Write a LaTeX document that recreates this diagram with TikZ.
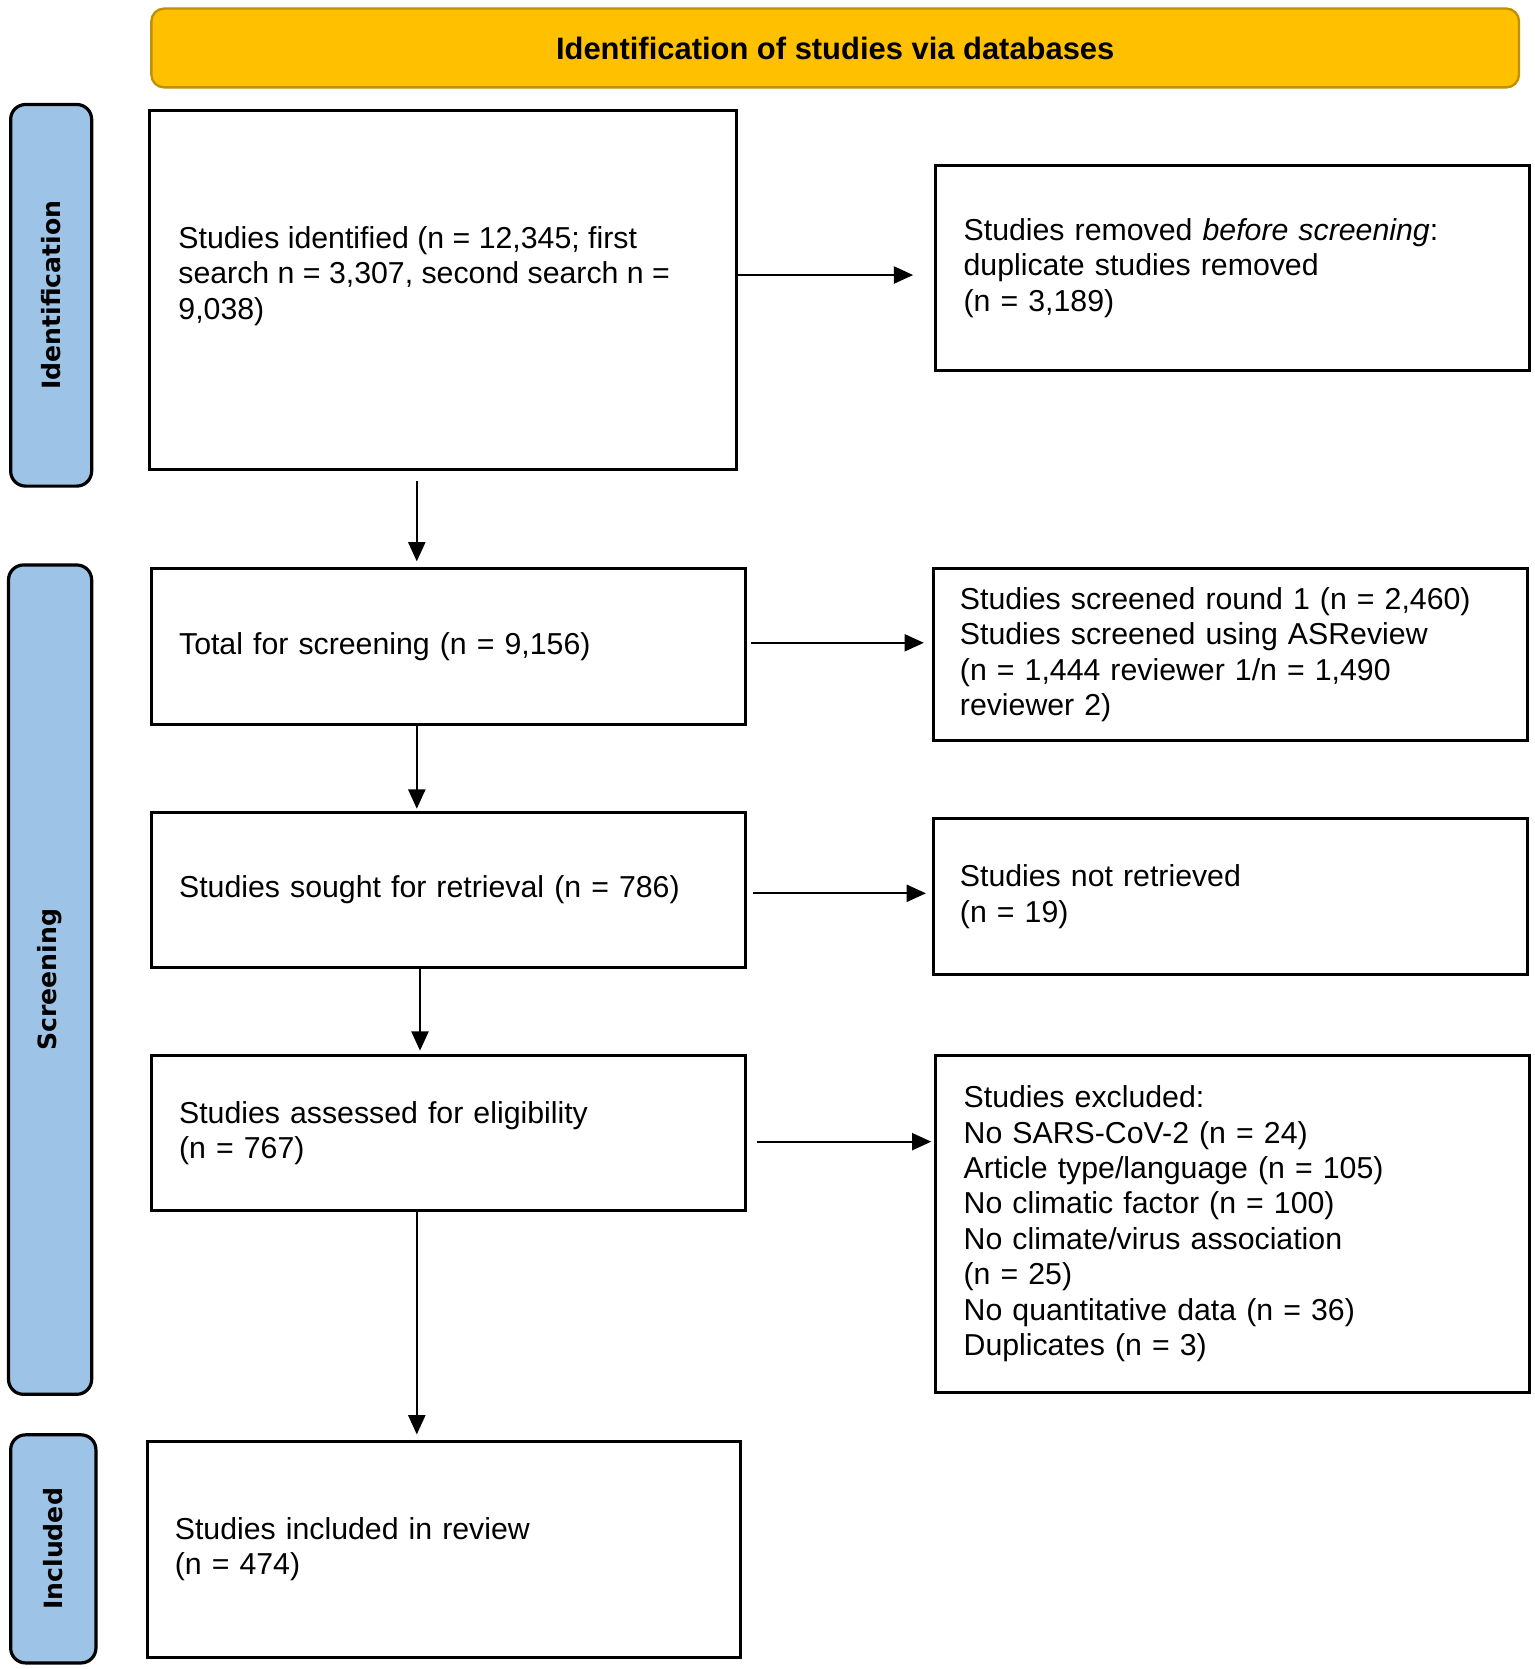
\documentclass[tikz,border=0pt]{standalone}
\usepackage{fontspec}
\setmainfont{Liberation Sans}
\newfontfamily\labfont{DejaVu Sans}
\usetikzlibrary{arrows.meta}
\definecolor{bannerfill}{HTML}{FFC000}
\definecolor{bannerdraw}{HTML}{BF9000}
\definecolor{sidefill}{HTML}{9DC3E6}
\tikzset{
  box/.style={draw=black, line width=1.4pt, fill=white, align=left, inner xsep=13pt,
    font=\fontsize{14.2}{16.6}\selectfont},
  sidelab/.style={draw=black, line width=1.5pt, fill=sidefill, rounded corners=7pt,
    font=\labfont\bfseries\fontsize{11.8}{13}\selectfont, inner sep=0pt},
  arr/.style={line width=0.9pt, -{Triangle[length=9pt,width=8pt]}},
}
\begin{document}
\begin{tikzpicture}[x=0.5pt,y=-0.5pt]
\useasboundingbox (0,0) rectangle (1440,1565.7);
% banner
\node[draw=bannerdraw, line width=1.1pt, fill=bannerfill, rounded corners=6pt,
  minimum width=641.5pt, minimum height=37pt,
  font=\bfseries\fontsize{14.5}{16}\selectfont] (banner) at (783.5,45)
  {Identification of studies via databases};
% side labels
\node[sidelab, minimum width=179pt, minimum height=38pt, rotate=90] (idlab) at (48,277) {Identification};
\node[sidelab, minimum width=389pt, minimum height=39pt, rotate=90] (scrlab) at (47,919) {Screening};
\node[sidelab, minimum width=107pt, minimum height=40pt, rotate=90] (inclab) at (50,1453) {Included};
% left column
\node[box, minimum width=275.5pt, minimum height=168pt] (box1) at (415.5,272) {};
\node[font=\fontsize{14.2}{16.6}\selectfont, align=left, anchor=west, inner sep=0pt] (box1txt) at (167,259)
  {Studies identified (n = 12,345; first\\search n = 3,307, second search n =\\9,038)};
\node[box, minimum width=278.5pt, minimum height=73.5pt, text width=252.5pt] (total) at (420.5,606.5)
  {Total for screening (n = 9,156)};
\node[box, minimum width=278.5pt, minimum height=73pt, text width=252.5pt] (sought) at (420.5,835)
  {Studies sought for retrieval (n = 786)};
\node[box, minimum width=278.5pt, minimum height=73pt, text width=252.5pt] (assessed) at (420.5,1063)
  {Studies assessed for eligibility\\(n = 767)};
\node[box, minimum width=278.5pt, minimum height=101.5pt, text width=252.5pt] (included) at (416.5,1453.5)
  {Studies included in review\\(n = 474)};
% right column
\node[box, minimum width=278.5pt, minimum height=96.5pt, text width=252.5pt] (removed) at (1156.5,251.5)
  {Studies removed \textit{before screening}:\\duplicate studies removed\\(n = 3,189)};
\node[box, minimum width=278.5pt, minimum height=81pt, text width=254pt, inner xsep=12pt] (round) at (1154.5,614)
  {Studies screened round 1 (n = 2,460)\\Studies screened using ASReview\\(n = 1,444 reviewer 1/n = 1,490\\reviewer 2)};
\node[box, minimum width=278.5pt, minimum height=73pt, text width=254pt, inner xsep=12pt] (notret) at (1154.5,841)
  {Studies not retrieved\\(n = 19)};
\node[box, minimum width=278.5pt, minimum height=158pt, text width=252.5pt] (excluded) at (1156.5,1148)
  {Studies excluded:\\No SARS-CoV-2 (n = 24)\\Article type/language (n = 105)\\No climatic factor (n = 100)\\No climate/virus association\\(n = 25)\\No quantitative data (n = 36)\\Duplicates (n = 3)};
% arrow heights
\coordinate (y1) at (0,258);
\coordinate (y2) at (0,603);
\coordinate (y3) at (0,838);
\coordinate (y4) at (0,1071);
% horizontal arrows
\draw[arr, shorten >=10pt] (box1.east |- y1) -- (removed.west |- y1);
\draw[arr, shorten <=2pt, shorten >=4pt] (total.east |- y2) -- (round.west |- y2);
\draw[arr, shorten <=3pt, shorten >=3pt] (sought.east |- y3) -- (notret.west |- y3);
\draw[arr, shorten <=5pt, shorten >=1.5pt] (assessed.east |- y4) -- (excluded.west |- y4);
% vertical arrows
\coordinate (x1) at (391,0);
\coordinate (x2) at (394,0);
\draw[arr, shorten <=5pt, shorten >=2.5pt] (box1.south -| x1) -- (total.north -| x1);
\draw[arr, shorten >=1pt] (total.south -| x1) -- (sought.north -| x1);
\draw[arr, shorten >=1.5pt] (sought.south -| x2) -- (assessed.north -| x2);
\draw[arr, shorten >=2.5pt] (assessed.south -| x1) -- (included.north -| x1);
\end{tikzpicture}
\end{document}
